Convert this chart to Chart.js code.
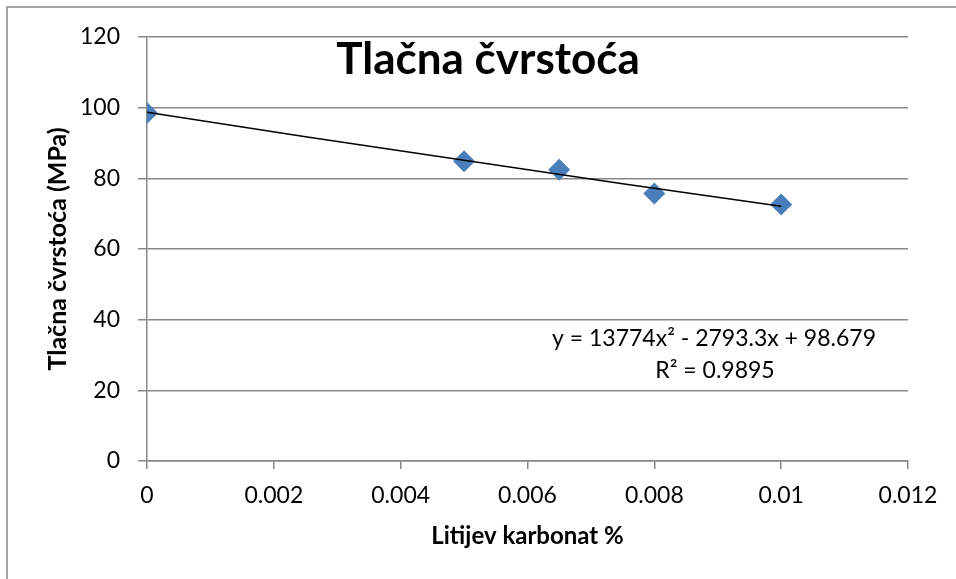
<!DOCTYPE html>
<html lang="hr">
<head>
<meta charset="UTF-8">
<title>Tlačna čvrstoća</title>
<script src="https://cdnjs.cloudflare.com/ajax/libs/Chart.js/4.4.1/chart.umd.min.js"></script>
<style>
    body { margin: 0; background: #fff; }
    #wrap { width: 956px; height: 579px; }
</style>
</head>
<body>
<div id="wrap"><canvas id="chart" width="956" height="579"></canvas></div>
<script>
    // measured points
    const xValues = [0, 0.005, 0.0065, 0.008, 0.01];
    const yValues = [98.5, 84.8, 82.4, 75.7, 72.6];

    // trendline
    const trendX = [0, 0.0025, 0.005, 0.0075, 0.01];
    const trendY = [98.7, 91.8, 85.1, 78.5, 72.1];

    const xTicks = [0, 0.002, 0.004, 0.006, 0.008, 0.01, 0.012];
    const xTickLabels = ['0', '0.002', '0.004', '0.006', '0.008', '0.01', '0.012'];
    const yTicks = [0, 20, 40, 60, 80, 100, 120];

    const chartTitle = 'Tlačna čvrstoća';
    const equation = 'y = 13774x² - 2793.3x + 98.679';
    const rSquared = 'R² = 0.9895';

    const FONT = 'Lato, "Open Sans", sans-serif';
    const GRID = '#888888';

    // frame and in-plot texts
    const decor = {
        id: 'decor',
        beforeDraw(chart) {
            const ctx = chart.ctx;
            ctx.save();
            ctx.fillStyle = '#fff';
            ctx.fillRect(0, 0, chart.width, chart.height);
            ctx.strokeStyle = GRID;
            ctx.lineWidth = 1.5;
            ctx.beginPath();
            ctx.moveTo(7, chart.height);
            ctx.lineTo(7, 7);
            ctx.lineTo(chart.width, 7);
            ctx.stroke();
            ctx.restore();
        },
        afterDraw(chart) {
            const ctx = chart.ctx;
            ctx.save();
            ctx.fillStyle = '#000';
            ctx.textAlign = 'center';
            ctx.textBaseline = 'alphabetic';
            ctx.font = 'bold 44px ' + FONT;
            ctx.fillText(chartTitle, 488, 74);
            ctx.font = '23px ' + FONT;
            ctx.fillText(equation, 714, 346);
            ctx.fillText(rSquared, 715, 378);
            ctx.restore();
        }
    };

    new Chart(document.getElementById('chart'), {
        type: 'scatter',
        data: {
            datasets: [{
                label: 'Trend',
                type: 'line',
                data: trendX.map((x, i) => ({ x: x, y: trendY[i] })),
                borderColor: '#000',
                borderWidth: 1.5,
                pointRadius: 0,
                tension: 0.4,
                fill: false,
                order: 0
            }, {
                label: 'Tlačna čvrstoća',
                data: xValues.map((x, i) => ({ x: x, y: yValues[i] })),
                pointStyle: 'rectRot',
                pointRadius: 11,
                pointHoverRadius: 11,
                backgroundColor: '#4A7EBB',
                borderColor: '#4A7EBB',
                borderWidth: 0,
                order: 1
            }]
        },
        options: {
            responsive: false,
            animation: false,
            layout: { padding: { left: 0, top: 37, right: 48, bottom: 0 } },
            plugins: {
                legend: { display: false },
                tooltip: { enabled: false }
            },
            scales: {
                x: {
                    type: 'linear',
                    min: 0,
                    max: 0.012,
                    afterBuildTicks: s => { s.ticks = xTicks.map(v => ({ value: v })); },
                    afterFit: s => { s.height = 118; },
                    grid: { drawOnChartArea: false, drawTicks: true, tickLength: 8, color: GRID, lineWidth: 1.5 },
                    border: { color: GRID, width: 1.5 },
                    ticks: {
                        padding: 13,
                        color: '#000',
                        font: { family: FONT, size: 23 },
                        callback: (v, i) => xTickLabels[i]
                    },
                    title: {
                        display: true,
                        text: 'Litijev karbonat %',
                        color: '#000',
                        font: { family: FONT, size: 24, weight: 'bold' },
                        padding: { top: 0, bottom: 28 }
                    }
                },
                y: {
                    min: 0,
                    max: 120,
                    afterBuildTicks: s => { s.ticks = yTicks.map(v => ({ value: v })); },
                    afterFit: s => { s.width = 147; },
                    grid: { color: GRID, lineWidth: 1.5, tickLength: 9 },
                    border: { color: GRID, width: 1.5 },
                    ticks: {
                        padding: 18,
                        color: '#000',
                        font: { family: FONT, size: 23 }
                    },
                    title: {
                        display: true,
                        text: 'Tlačna čvrstoća (MPa)',
                        color: '#000',
                        font: { family: FONT, size: 25, weight: 'bold' },
                        padding: { top: 43, bottom: 0 }
                    }
                }
            }
        },
        plugins: [decor]
    });
</script>
</body>
</html>
